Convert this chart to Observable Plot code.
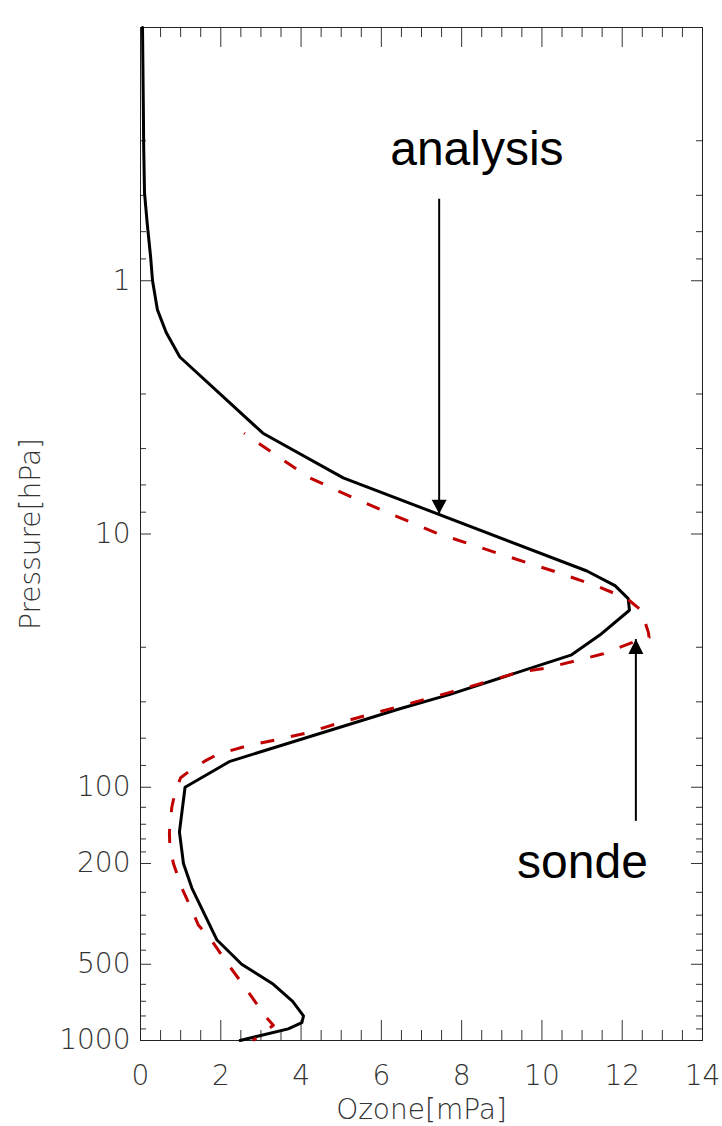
<!DOCTYPE html>
<html><head><meta charset="utf-8">
<script src="https://cdn.jsdelivr.net/npm/d3@7"></script>
<script src="https://cdn.jsdelivr.net/npm/@observablehq/plot@0.6"></script>
<style>body{margin:0;background:#fff}</style>
</head><body><div id="chart"></div>
<script>
// Analysis profile: pressure (hPa) and ozone partial pressure (mPa)
const analysisP = [0.1, 0.2, 0.3, 0.45, 0.6, 0.8, 1, 1.3, 1.6, 2, 4, 6, 14, 16, 18, 20, 25, 30, 43, 49, 79, 100, 150, 200, 250, 400, 500, 600, 700, 800, 850, 900, 1000];
const analysisO = [0.05, 0.07, 0.08, 0.1, 0.17, 0.25, 0.3, 0.42, 0.64, 0.98, 3.05, 5.05, 11.12, 11.82, 12.15, 12.18, 11.45, 10.74, 7.71, 6.46, 2.23, 1.11, 0.97, 1.07, 1.28, 1.90, 2.52, 3.31, 3.79, 4.06, 4.02, 3.68, 2.48];
// Sonde profile
const sondeP = [4.0, 5.1, 6, 6.75, 8, 8.9, 9.9, 12, 14, 16, 18, 20, 24.4, 25.6, 26.4, 29.7, 31.6, 33.8, 35.3, 38.2, 42.2, 47.5, 51.5, 55.6, 60.9, 64.7, 68.5, 74, 78.7, 84.9, 91.7, 104.8, 120, 150, 170, 200, 250, 300, 350, 400, 500, 600, 700, 800, 870, 1000];
const sondeO = [2.58, 3.55, 4.22, 4.91, 5.97, 6.67, 7.36, 8.96, 10.28, 11.35, 12.12, 12.47, 12.65, 12.67, 12.36, 11.53, 10.87, 10.12, 9.37, 8.66, 7.71, 6.54, 5.72, 4.97, 4.17, 3.43, 2.68, 1.93, 1.61, 1.28, 1.0, 0.86, 0.78, 0.72, 0.73, 0.82, 1.03, 1.26, 1.44, 1.76, 2.18, 2.55, 2.85, 3.10, 3.31, 2.80];

// Axes
const xTickMajor = [0, 2, 4, 6, 8, 10, 12, 14];
const yTickMajor = [0.1, 1, 10, 100, 200, 500, 1000];
const yTickLabels = [1, 10, 100, 200, 500, 1000];
const xTitle = "Ozone[mPa]";
const yTitle = "Pressure[hPa]";

// Annotations
const annText = ["analysis", "sonde"];
const annX = [8.38, 11.01];
const annP = [0.348, 228];
const arrowX = [7.44, 12.34];
const arrowFromP = [0.474, 135.7];
const arrowToP = [8.32, 26.0];
const arrowDir = ["down", "up"];

const analysis = analysisP.map((p, i) => ({p, o: analysisO[i]}));
const sonde = sondeP.map((p, i) => ({p, o: sondeO[i]}));
const arrows = arrowX.map((x, i) => ({x, p1: arrowFromP[i], p2: arrowToP[i], dir: arrowDir[i]}));

const xMinor = [];
for (let v = 0; v <= 14; v += 0.5) if (v % 2 !== 0) xMinor.push(v);
const yMinor = [];
for (let i = 0; i < yTickMajor.length - 1; i++) {
  const a = yTickMajor[i], b = yTickMajor[i + 1], s = (b - a) / 5;
  for (let k = 1; k <= 4; k++) yMinor.push(a + k * s);
}

const W = 722, H = 1126;
const mL = 140, mR = 20, mT = 27, mB = 86;
const pw = W - mL - mR, ph = H - mT - mB;

const headDown = {draw(ctx) { ctx.moveTo(0, 0); ctx.lineTo(-7.5, -14); ctx.lineTo(7.5, -14); ctx.closePath(); }};
const headUp = {draw(ctx) { ctx.moveTo(0, 0); ctx.lineTo(-7.5, 15); ctx.lineTo(7.5, 15); ctx.closePath(); }};

const tickColor = "#333";
const lightFont = "DejaVu Sans, sans-serif";

const chart = Plot.plot({
  width: W, height: H,
  marginLeft: mL, marginRight: mR, marginTop: mT, marginBottom: mB,
  style: {fontFamily: lightFont, background: "#fff"},
  x: {domain: [0, 14], axis: null},
  y: {type: "log", domain: [0.1, 1000], reverse: true, axis: null},
  marks: [
    // ticks: left/right (y), top/bottom (x), all pointing inward
    Plot.tickY(yTickMajor, {y: d => d, insetRight: pw - 11, stroke: tickColor}),
    Plot.tickY(yMinor, {y: d => d, insetRight: pw - 6, stroke: tickColor}),
    Plot.tickY(yTickMajor, {y: d => d, insetLeft: pw - 11, stroke: tickColor}),
    Plot.tickY(yMinor, {y: d => d, insetLeft: pw - 6, stroke: tickColor}),
    Plot.tickX(xTickMajor, {x: d => d, insetBottom: ph - 20, stroke: tickColor}),
    Plot.tickX(xMinor, {x: d => d, insetBottom: ph - 10, stroke: tickColor}),
    Plot.tickX(xTickMajor, {x: d => d, insetTop: ph - 20, stroke: tickColor}),
    Plot.tickX(xMinor, {x: d => d, insetTop: ph - 10, stroke: tickColor}),
    Plot.frame({stroke: "#222", strokeWidth: 1}),
    // tick labels
    Plot.text(yTickLabels, {y: d => d, frameAnchor: "left", dx: -10, textAnchor: "end", lineAnchor: "middle",
      text: d => String(d), fontSize: 28, fontWeight: 200, fill: "#333"}),
    Plot.text(xTickMajor, {x: d => d, frameAnchor: "bottom", dy: 44, lineAnchor: "bottom",
      text: d => String(d), fontSize: 28, fontWeight: 200, fill: "#333"}),
    // axis titles
    Plot.text([xTitle], {frameAnchor: "bottom", dy: 78, lineAnchor: "bottom", text: d => d,
      fontSize: 28, fontWeight: 200, fill: "#333"}),
    Plot.text([yTitle], {frameAnchor: "left", dx: -109, rotate: -90, textAnchor: "middle", lineAnchor: "middle", text: d => d,
      fontSize: 28, fontWeight: 200, fill: "#333"}),
    // profiles
    Plot.line(analysis, {x: "o", y: "p", stroke: "black", strokeWidth: 3, strokeLinejoin: "round"}),
    Plot.line(sonde, {x: "o", y: "p", stroke: "#c00000", strokeWidth: 3, strokeLinecap: "butt",
      strokeDasharray: "14,17", strokeDashoffset: 13}),
    // arrows
    Plot.link(arrows, {x1: "x", x2: "x", y1: "p1", y2: "p2", stroke: "black", strokeWidth: 2}),
    Plot.dot(arrows.filter(d => d.dir === "down"), {x: "x", y: "p2", symbol: headDown, r: 7, fill: "black", stroke: "none"}),
    Plot.dot(arrows.filter(d => d.dir === "up"), {x: "x", y: "p2", symbol: headUp, r: 7, fill: "black", stroke: "none"}),
    // annotation labels
    Plot.text(annText, {x: (d, i) => annX[i], y: (d, i) => annP[i], text: d => d, textAnchor: "middle",
      lineAnchor: "bottom", fontSize: 48, fontFamily: "Liberation Sans, Arial, sans-serif", fill: "black"})
  ]
});
document.getElementById("chart").append(chart);
</script>
</body></html>
